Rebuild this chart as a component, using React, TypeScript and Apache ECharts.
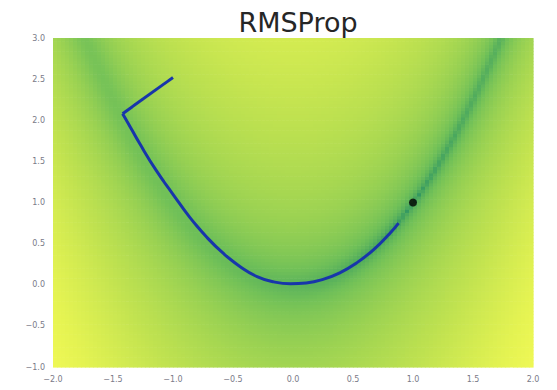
import React, { useEffect, useRef } from "react";
import * as echarts from "echarts";

const title = "RMSProp";
const xTicks = [-2.0, -1.5, -1.0, -0.5, 0.0, 0.5, 1.0, 1.5, 2.0];
const yTicks = [-1.0, -0.5, 0.0, 0.5, 1.0, 1.5, 2.0, 2.5, 3.0];

// RMSProp trajectory: first straight step, then the valley descent
const stepX = [-1.0, -1.42];
const stepY = [2.52, 2.08];
const pathX = [-1.42, -1.38, -1.275, -1.14, -1.0, -0.86, -0.72, -0.58, -0.44, -0.3, -0.16, -0.02, 0.11, 0.25, 0.39, 0.53, 0.67, 0.81, 0.88];
const pathY = [2.08, 1.98, 1.71, 1.39, 1.1, 0.82, 0.58, 0.38, 0.22, 0.1, 0.035, 0.012, 0.022, 0.065, 0.145, 0.265, 0.425, 0.63, 0.75];

// global minimum
const minimumX = [1.0];
const minimumY = [1.0];

// colour stops of the colormap (position, r, g, b)
const colorStops = [
  [0.0, 20, 128, 100],
  [0.25, 70, 165, 95],
  [0.42, 112, 192, 88],
  [0.6, 155, 210, 82],
  [0.76, 192, 226, 80],
  [0.9, 228, 243, 82],
  [1.0, 248, 252, 88],
];

// Rosenbrock surface sampled on a grid
const nx = 120;
const ny = 100;
const xMin = -2, xMax = 2, yMin = -1, yMax = 3;
const dx = (xMax - xMin) / nx;
const dy = (yMax - yMin) / ny;
const rosenbrock = (x: number, y: number) => (1 - x) ** 2 + 100 * (y - x * x) ** 2;

const cells: number[][] = [];
for (let i = 0; i < nx; i++) {
  for (let j = 0; j < ny; j++) {
    const cx = xMin + (i + 0.5) * dx;
    const cy = yMin + (j + 0.5) * dy;
    cells.push([xMin + i * dx, yMin + j * dy, rosenbrock(cx, cy)]);
  }
}

function colorOf(v: number): string {
  let t = 0.35 * Math.pow(Math.max(v, 0), 0.128);
  t = Math.max(0, Math.min(1, t));
  let k = 0;
  while (k < colorStops.length - 2 && t > colorStops[k + 1][0]) k++;
  const a = colorStops[k];
  const b = colorStops[k + 1];
  const u = (t - a[0]) / (b[0] - a[0]);
  const c = [1, 2, 3].map((q) => Math.round(a[q] + (b[q] - a[q]) * u));
  return `rgb(${c[0]},${c[1]},${c[2]})`;
}

const fmt = (v: number) => (v < 0 ? "\u2212" + Math.abs(v).toFixed(1) : v.toFixed(1));

export default function App() {
  const ref = useRef<HTMLDivElement>(null);
  useEffect(() => {
    if (!ref.current) return;
    const chart = echarts.init(ref.current, undefined, { renderer: "svg" });
    chart.setOption({
      animation: false,
      backgroundColor: "#ffffff",
      title: {
        text: title,
        left: 293,
        textAlign: "center",
        top: 4,
        textStyle: { fontFamily: "DejaVu Sans", fontSize: 27, fontWeight: "normal", color: "#262626" },
      },
      grid: { left: 53, right: 24, top: 38, bottom: 23, containLabel: false },
      xAxis: {
        type: "value",
        min: xTicks[0],
        max: xTicks[xTicks.length - 1],
        interval: 0.5,
        axisLine: { show: false },
        axisTick: { show: false },
        splitLine: { show: false },
        axisLabel: { formatter: fmt, fontSize: 8, color: "#7a7a88", fontFamily: "DejaVu Sans", margin: 8 },
      },
      yAxis: {
        type: "value",
        min: yTicks[0],
        max: yTicks[yTicks.length - 1],
        interval: 0.5,
        axisLine: { show: false },
        axisTick: { show: false },
        splitLine: { show: false },
        axisLabel: { formatter: fmt, fontSize: 8, color: "#7a7a88", fontFamily: "DejaVu Sans", margin: 8 },
      },
      series: [
        {
          type: "custom",
          silent: true,
          data: cells,
          encode: { x: 0, y: 1 },
          renderItem: (params: any, api: any) => {
            const x0 = api.value(0);
            const y0 = api.value(1);
            const v = api.value(2);
            const p = api.coord([x0, y0 + dy]);
            const s = api.size([dx, dy]);
            return {
              type: "rect",
              shape: { x: p[0], y: p[1], width: s[0] + 0.6, height: s[1] + 0.6 },
              style: { fill: colorOf(v), stroke: null },
            };
          },
          z: 1,
        },
        {
          type: "line",
          data: stepX.map((x, i) => [x, stepY[i]]),
          symbol: "none",
          lineStyle: { color: "#1836aa", width: 3 },
          z: 3,
        },
        {
          type: "line",
          data: pathX.map((x, i) => [x, pathY[i]]),
          smooth: 0.5,
          symbol: "none",
          lineStyle: { color: "#1836aa", width: 3 },
          z: 3,
        },
        {
          type: "scatter",
          data: minimumX.map((x, i) => [x, minimumY[i]]),
          symbolSize: 8,
          itemStyle: { color: "#000000" },
          z: 4,
        },
      ],
    });
    return () => chart.dispose();
  }, []);
  return <div ref={ref} style={{ width: 557, height: 390, position: "absolute", left: 0, top: 0 }} />;
}
